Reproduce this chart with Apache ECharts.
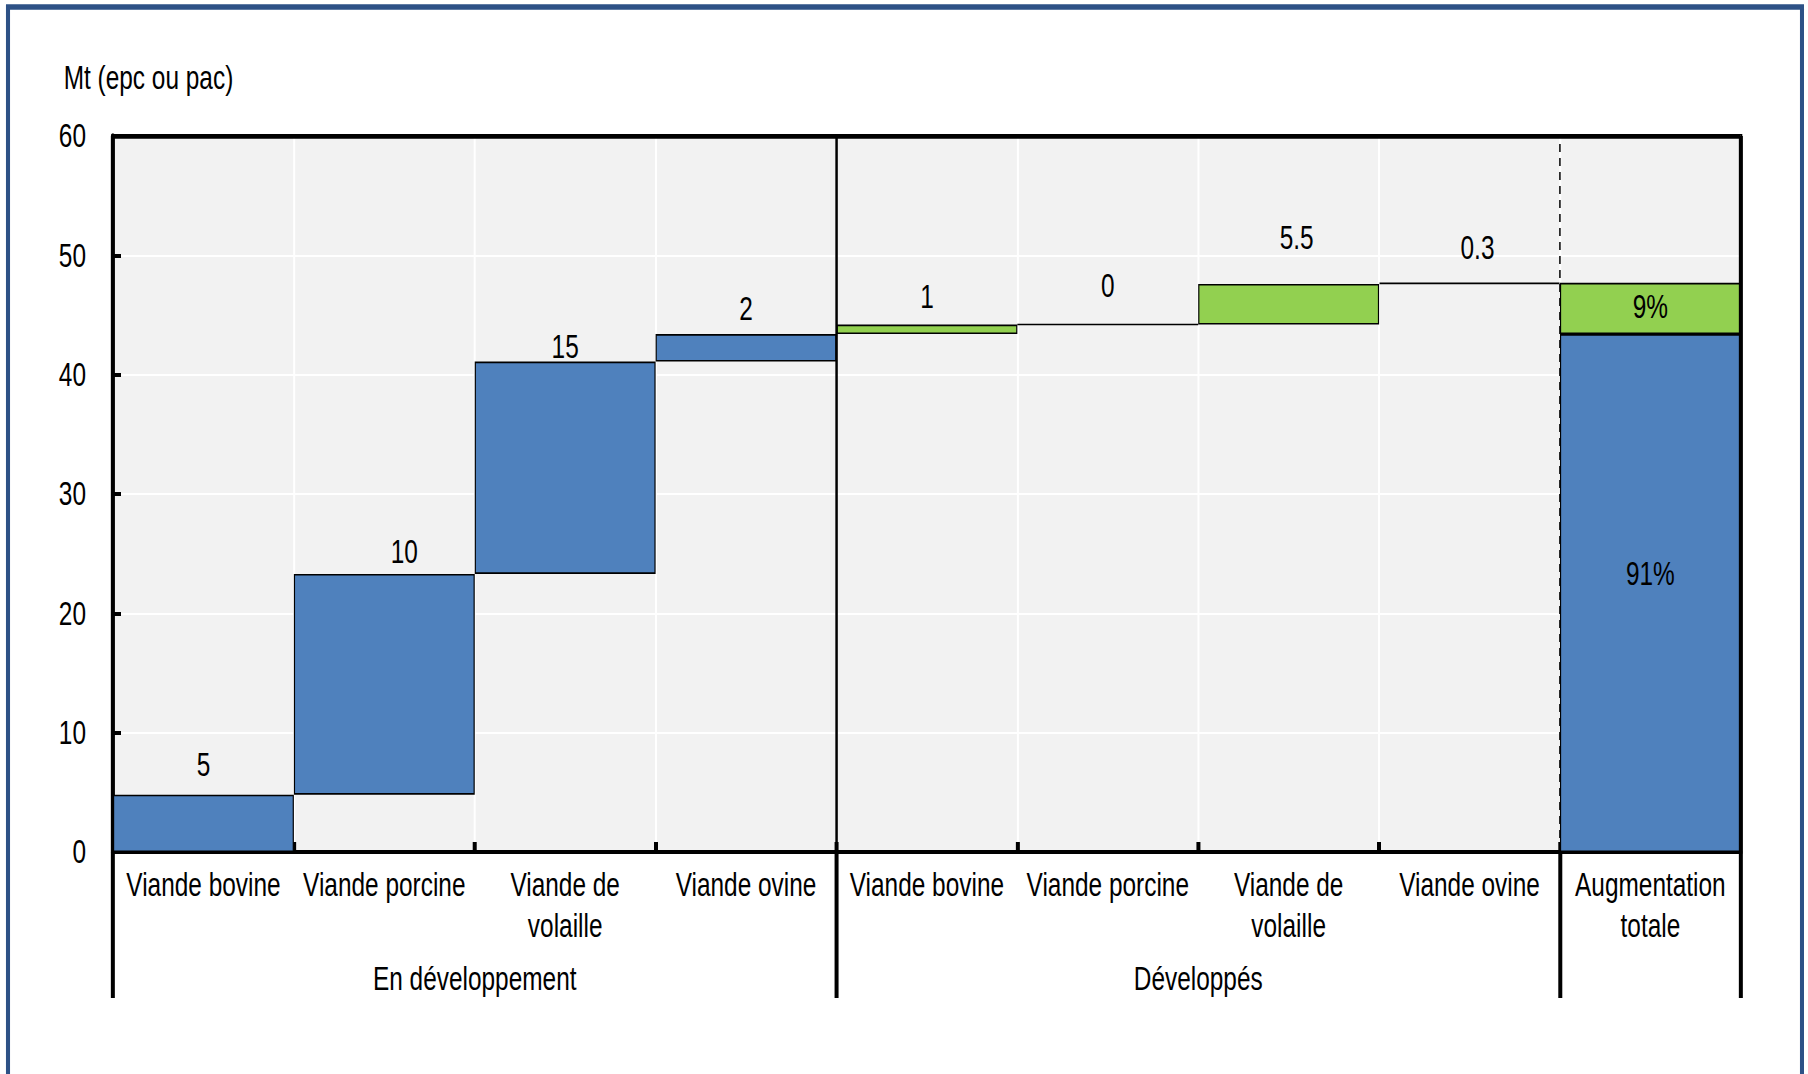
<!DOCTYPE html>
<html>
<head>
<meta charset="utf-8">
<script src="https://cdn.jsdelivr.net/npm/echarts@6.0.0/dist/echarts.min.js"></script>
<style>
  html, body { margin: 0; padding: 0; background: #fff; overflow: hidden; }
  #wrap { width: 1808px; height: 1074px; overflow: hidden; }
  /* the reference uses a condensed face: draw wide, squeeze horizontally */
  #chart { height: 1074px; transform-origin: 0 0; }
</style>
</head>
<body>
<div id="wrap"><div id="chart"></div></div>
<script>
const categories = [
  'Viande bovine', 'Viande porcine', 'Viande de\nvolaille', 'Viande ovine',
  'Viande bovine', 'Viande porcine', 'Viande de\nvolaille', 'Viande ovine',
  'Augmentation\ntotale'
];
const groupNames = ['En développement', 'Développés'];
const groupSpans = [4, 4];

// step increments, Mt
const developing = [4.8, 18.5, 17.8, 2.3];
const developed = [0.8, 0, 3.4, 0.1];

// texts printed above each step
const developingLabels = ['5', '10', '15', '2'];
const developedLabels = ['1', '0', '5.5', '0.3'];

// label placement tweaks (px), one per step
const labelGap = [14, 6, -2, 9, 11, 22, 30, 18];
const labelShift = [0, 20, 0, 0, 0, 0, 8, 8];

const SX = 0.74;
const X = v => v / SX;
const W = 1808;
document.getElementById('chart').style.width = X(W) + 'px';
document.getElementById('chart').style.transform = 'scaleX(' + SX + ')';

const FONT = '"Liberation Sans", Arial, sans-serif';
const FS = 33;
const BLUE = '#4f81bd';
const GREEN = '#92d050';

const sum = a => a.reduce((s, v) => s + v, 0);
const steps = developing.concat(developed);
let run = 0;
const base = steps.map(v => { const b = run; run += v; return b; });
base.push(0);
const devTotal = sum(developing);
const dvdTotal = sum(developed);
const total = devTotal + dvdTotal;
const pct = v => Math.round(v / total * 100) + '%';

const stepItem = (v, i) => ({
  value: v,
  label: { distance: labelGap[i], offset: [X(labelShift[i]), 0] }
});
const blank = n => Array(n).fill('-');

const devData = developing.map((v, i) => stepItem(v, i))
  .concat(blank(4), [{ value: devTotal, label: { position: 'inside', offset: [0, -19] } }]);
const dvdData = blank(4)
  .concat(developed.map((v, i) => stepItem(v, i + 4)), [{ value: dvdTotal, label: { position: 'inside', offset: [0, -2] } }]);

// group edges / centres on the 0..n value axis
const groupEdges = [0];
groupSpans.forEach(s => groupEdges.push(groupEdges[groupEdges.length - 1] + s));
groupEdges.push(categories.length);
const groupCentres = groupSpans.map((s, i) => groupEdges[i] + s / 2);
const innerEdges = categories.slice(1).map((c, i) => i + 1);

const chart = echarts.init(document.getElementById('chart'), null, { renderer: 'svg' });

const barLabel = {
  show: true,
  position: 'top',
  color: '#000',
  fontFamily: FONT,
  fontSize: FS
};

chart.setOption({
  animation: false,
  backgroundColor: '#fff',
  textStyle: { fontFamily: FONT },
  title: {
    text: 'Mt (epc ou pac)',
    left: X(60),
    top: 56,
    textStyle: { fontFamily: FONT, fontSize: FS, fontWeight: 'normal', color: '#000' }
  },
  graphic: [{
    type: 'rect',
    silent: true,
    shape: { x: X(8), y: 7, width: X(1794), height: 1100 },
    style: { fill: 'none', stroke: '#2d5186', lineWidth: 5.5 }
  }],
  grid: {
    left: X(113), right: X(67), top: 136, bottom: 222,
    show: true,
    backgroundColor: '#f2f2f2',
    borderColor: '#000',
    borderWidth: 4
  },
  xAxis: [
    {
      type: 'category',
      data: categories,
      axisLine: { lineStyle: { color: '#000', width: 4 } },
      axisTick: { interval: 0, length: 96, lineStyle: { color: '#000', width: X(4) } },
      axisLabel: {
        interval: 0, margin: 12, color: '#000', fontFamily: FONT, fontSize: FS, lineHeight: 41
      },
      splitLine: { show: true, interval: 0, lineStyle: { color: '#fff', width: X(2) } }
    },
    {
      type: 'value',
      min: 0,
      max: categories.length,
      position: 'bottom',
      axisLine: { show: false },
      splitLine: { show: false },
      axisTick: { customValues: groupEdges, length: 146, lineStyle: { color: '#000', width: X(4) } },
      axisLabel: {
        customValues: groupCentres,
        margin: 110,
        color: '#000',
        fontFamily: FONT,
        fontSize: FS,
        formatter: v => groupNames[groupCentres.indexOf(v)]
      }
    },
    {
      type: 'value',
      min: 0,
      max: categories.length,
      position: 'bottom',
      axisLine: { show: false },
      splitLine: { show: false },
      axisTick: { customValues: innerEdges, inside: true, length: 10, lineStyle: { color: '#000', width: X(4) } },
      axisLabel: { show: false }
    }
  ],
  yAxis: {
    type: 'value',
    min: 0,
    max: 60,
    interval: 10,
    axisLine: { show: true, lineStyle: { color: '#000', width: X(4) } },
    axisTick: { show: true, inside: true, length: X(8), lineStyle: { color: '#000', width: 4 } },
    axisLabel: { margin: X(27), color: '#000', fontFamily: FONT, fontSize: FS },
    splitLine: { show: true, lineStyle: { color: '#fff', width: 2 } }
  },
  series: [
    {
      type: 'bar',
      stack: 'w',
      barWidth: '100%',
      silent: true,
      itemStyle: { color: 'transparent' },
      data: base
    },
    {
      name: 'En développement',
      type: 'bar',
      stack: 'w',
      barWidth: '100%',
      itemStyle: { color: BLUE, borderColor: '#000', borderWidth: 1.6 },
      label: Object.assign({}, barLabel, {
        formatter: p => p.dataIndex < 4 ? developingLabels[p.dataIndex] : pct(devTotal)
      }),
      data: devData
    },
    {
      name: 'Développés',
      type: 'bar',
      stack: 'w',
      barWidth: '100%',
      itemStyle: { color: GREEN, borderColor: '#000', borderWidth: 1.6 },
      label: Object.assign({}, barLabel, {
        formatter: p => p.dataIndex < 8 ? developedLabels[p.dataIndex - 4] : pct(dvdTotal)
      }),
      data: dvdData
    },
    {
      type: 'line',
      xAxisIndex: 2,
      data: [],
      silent: true,
      markLine: {
        silent: true,
        symbol: 'none',
        label: { show: false },
        z: 5,
        data: [
          { xAxis: groupEdges[1], lineStyle: { color: '#000', width: X(2.5), type: 'solid' } },
          { xAxis: groupEdges[2], lineStyle: { color: '#000', width: X(1.5), type: [8, 6] } },
          { xAxis: categories.length, lineStyle: { color: '#000', width: X(4), type: 'solid' } },
          { yAxis: 60, lineStyle: { color: '#000', width: 4.5, type: 'solid' } }
        ]
      }
    }
  ]
});
</script>
</body>
</html>
